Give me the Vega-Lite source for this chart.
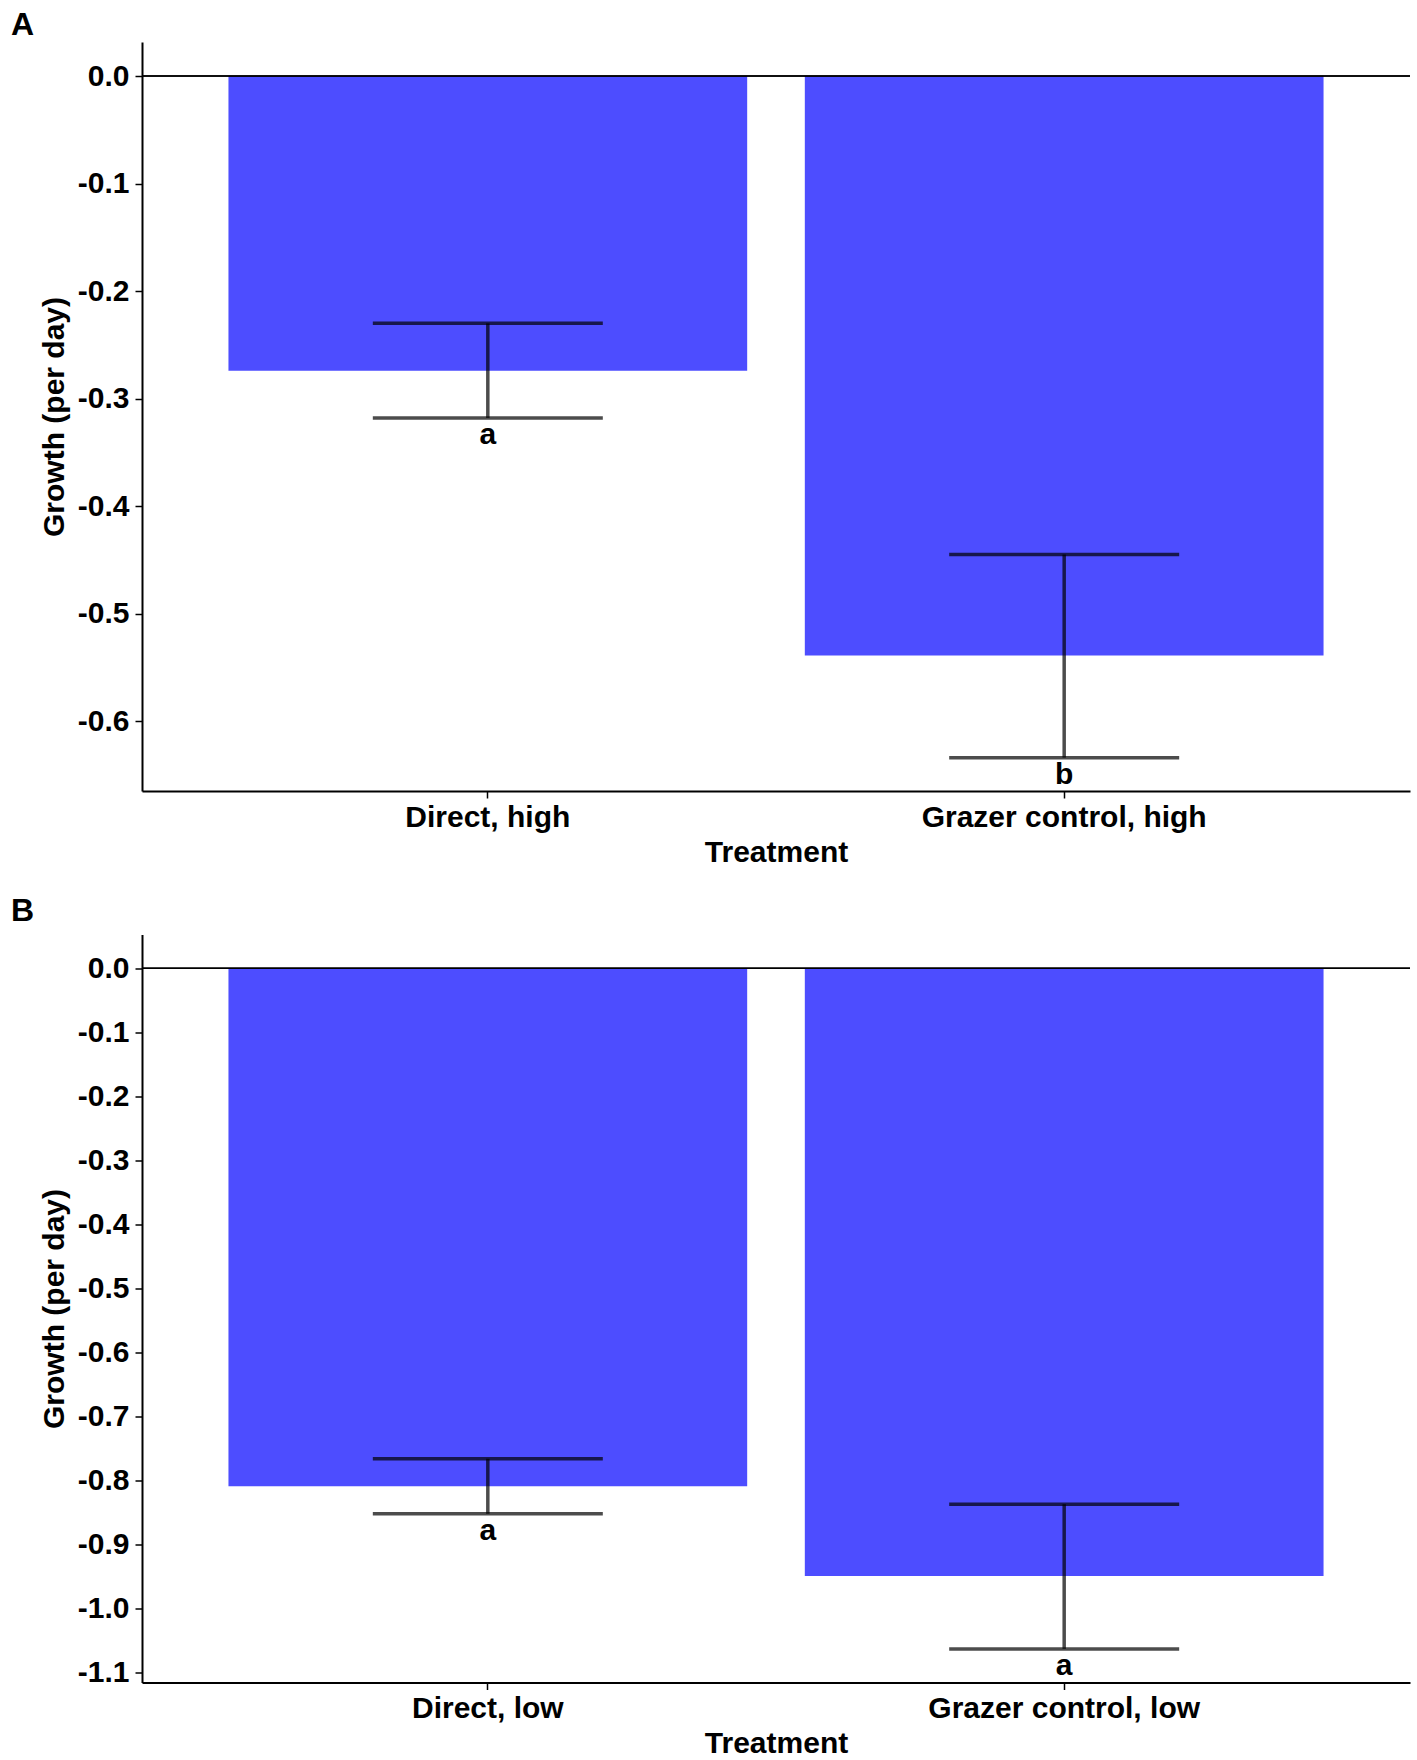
{
  "$schema": "https://vega.github.io/schema/vega-lite/v6.json",
  "background": "white",
  "padding": {"left": 11, "top": 9, "right": 5, "bottom": 0},
  "spacing": 27.5,
  "data": {
    "values": [
      {"panel": "A", "treatment": "Direct, high", "growth": -0.274, "lower": -0.318, "upper": -0.230, "letter": "a"},
      {"panel": "A", "treatment": "Grazer control, high", "growth": -0.539, "lower": -0.634, "upper": -0.445, "letter": "b"},
      {"panel": "B", "treatment": "Direct, low", "growth": -0.809, "lower": -0.852, "upper": -0.766, "letter": "a"},
      {"panel": "B", "treatment": "Grazer control, low", "growth": -0.949, "lower": -1.063, "upper": -0.837, "letter": "a"}
    ]
  },
  "config": {
    "font": "Liberation Sans",
    "view": {"stroke": null},
    "axis": {
      "grid": false,
      "domainColor": "black",
      "domainWidth": 2,
      "tickColor": "black",
      "tickWidth": 1.5,
      "tickSize": 7,
      "labelFontSize": 30,
      "labelFontWeight": "bold",
      "labelColor": "black",
      "labelLimit": 0,
      "titleFontSize": 30,
      "titleFontWeight": "bold",
      "titleColor": "black"
    },
    "title": {"fontSize": 32, "fontWeight": "bold", "color": "black", "anchor": "start", "frame": "group", "baseline": "alphabetic"}
  },
  "vconcat": [
    {
      "title": {"text": "A", "dx": -131, "offset": 0, "fontSize": 32},
      "width": 1268,
      "height": 749,
      "transform": [{"filter": "datum.panel === 'A'"}],
      "layer": [
        {
          "mark": {"type": "bar", "color": "#4d4dff"},
          "encoding": {
            "x": {"field": "treatment", "type": "nominal", "sort": null, "scale": {"paddingInner": 0.1, "paddingOuter": 0.15}, "axis": {"title": "Treatment", "labelAngle": 0, "labelPadding": 4, "titlePadding": 5}},
            "y": {"field": "growth", "type": "quantitative", "title": "Growth (per day)", "scale": {"domain": [-0.665, 0.0317], "nice": false, "zero": false}, "axis": {"values": [0, -0.1, -0.2, -0.3, -0.4, -0.5, -0.6], "format": ".1f", "labelExpr": "replace(datum.label, '\u2212', '-')", "labelPadding": 6, "titlePadding": 8}}
          }
        },
        {
          "mark": {"type": "rule", "color": "black", "strokeWidth": 1.5},
          "encoding": {"y": {"datum": 0}}
        },
        {
          "mark": {"type": "rule", "color": "black", "opacity": 0.7, "strokeWidth": 3.5},
          "encoding": {
            "x": {"field": "treatment", "type": "nominal", "sort": null},
            "y": {"field": "lower", "type": "quantitative", "title": "Growth (per day)"},
            "y2": {"field": "upper"}
          }
        },
        {
          "mark": {"type": "tick", "color": "black", "opacity": 0.7, "size": 230, "thickness": 3.5},
          "encoding": {
            "x": {"field": "treatment", "type": "nominal", "sort": null},
            "y": {"field": "lower", "type": "quantitative", "title": "Growth (per day)"}
          }
        },
        {
          "mark": {"type": "tick", "color": "black", "opacity": 0.7, "size": 230, "thickness": 3.5},
          "encoding": {
            "x": {"field": "treatment", "type": "nominal", "sort": null},
            "y": {"field": "upper", "type": "quantitative", "title": "Growth (per day)"}
          }
        },
        {
          "mark": {"type": "text", "dy": 26, "baseline": "alphabetic", "align": "center", "fontSize": 30, "fontWeight": "bold", "color": "black"},
          "encoding": {
            "x": {"field": "treatment", "type": "nominal", "sort": null},
            "y": {"field": "lower", "type": "quantitative", "title": "Growth (per day)"},
            "text": {"field": "letter"}
          }
        }
      ]
    },
    {
      "title": {"text": "B", "dx": -131, "offset": 7, "fontSize": 32},
      "width": 1268,
      "height": 748,
      "transform": [{"filter": "datum.panel === 'B'"}],
      "layer": [
        {
          "mark": {"type": "bar", "color": "#4d4dff"},
          "encoding": {
            "x": {"field": "treatment", "type": "nominal", "sort": null, "scale": {"paddingInner": 0.1, "paddingOuter": 0.15}, "axis": {"title": "Treatment", "labelAngle": 0, "labelPadding": 4, "titlePadding": 5}},
            "y": {"field": "growth", "type": "quantitative", "title": "Growth (per day)", "scale": {"domain": [-1.1155, 0.0528], "nice": false, "zero": false}, "axis": {"values": [0, -0.1, -0.2, -0.3, -0.4, -0.5, -0.6, -0.7, -0.8, -0.9, -1.0, -1.1], "format": ".1f", "labelExpr": "replace(datum.label, '\u2212', '-')", "labelPadding": 6, "titlePadding": 8}}
          }
        },
        {
          "mark": {"type": "rule", "color": "black", "strokeWidth": 1.5},
          "encoding": {"y": {"datum": 0}}
        },
        {
          "mark": {"type": "rule", "color": "black", "opacity": 0.7, "strokeWidth": 3.5},
          "encoding": {
            "x": {"field": "treatment", "type": "nominal", "sort": null},
            "y": {"field": "lower", "type": "quantitative", "title": "Growth (per day)"},
            "y2": {"field": "upper"}
          }
        },
        {
          "mark": {"type": "tick", "color": "black", "opacity": 0.7, "size": 230, "thickness": 3.5},
          "encoding": {
            "x": {"field": "treatment", "type": "nominal", "sort": null},
            "y": {"field": "lower", "type": "quantitative", "title": "Growth (per day)"}
          }
        },
        {
          "mark": {"type": "tick", "color": "black", "opacity": 0.7, "size": 230, "thickness": 3.5},
          "encoding": {
            "x": {"field": "treatment", "type": "nominal", "sort": null},
            "y": {"field": "upper", "type": "quantitative", "title": "Growth (per day)"}
          }
        },
        {
          "mark": {"type": "text", "dy": 26, "baseline": "alphabetic", "align": "center", "fontSize": 30, "fontWeight": "bold", "color": "black"},
          "encoding": {
            "x": {"field": "treatment", "type": "nominal", "sort": null},
            "y": {"field": "lower", "type": "quantitative", "title": "Growth (per day)"},
            "text": {"field": "letter"}
          }
        }
      ]
    }
  ]
}
